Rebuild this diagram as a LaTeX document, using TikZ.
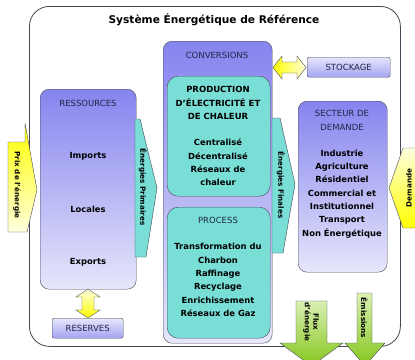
\documentclass[tikz,border=0pt]{standalone}
\usepackage{fontspec}
\setmainfont{DejaVu Sans}
\usetikzlibrary{positioning}

\definecolor{lilac}{RGB}{134,132,238}
\definecolor{lilacpale}{RGB}{230,230,251}
\definecolor{turq}{RGB}{120,222,214}
\definecolor{edge}{RGB}{70,70,84}
\definecolor{headtxt}{RGB}{36,36,70}
\definecolor{ylw}{RGB}{255,255,0}
\definecolor{ylwpale}{RGB}{255,255,222}
\definecolor{grn}{RGB}{132,198,28}
\definecolor{grnpale}{RGB}{218,240,180}

\tikzset{
  blockbox/.style={draw=edge, rounded corners=9pt, top color=lilac, bottom color=lilacpale,
    anchor=north west, inner sep=0pt},
  procbox/.style={draw=edge, rounded corners=11pt, fill=turq, anchor=north west, inner sep=0pt},
  tagbox/.style={draw=edge, rounded corners=2pt, top color=lilacpale, bottom color=lilac!75,
    anchor=north west, inner sep=0pt},
  head/.style={font=\fontsize{8.5}{13.5}\selectfont, text=headtxt, align=center},
  boldhead/.style={font=\bfseries\fontsize{8.5}{13.5}\selectfont, align=center},
  item/.style={font=\bfseries\fontsize{8.4}{13.3}\selectfont, align=center},
  arrowtxt/.style={font=\bfseries\fontsize{7.2}{8.5}\selectfont, align=center},
  flowshape/.style={draw=edge, fill=turq},
}

\begin{document}
\begin{tikzpicture}[x=1pt, y=-1pt]
  \useasboundingbox (0,0) rectangle (415,359);

  % the whole system
  \node[draw=edge, line width=0.8pt, rounded corners=20pt, fill=white, anchor=north west,
    minimum width=371pt, minimum height=340pt] (sys) at (29,6) {};
  \node[font=\bfseries\fontsize{10.6}{12}\selectfont] (title) at (214,20) {Système Énergétique de Référence};

  % main blocks
  \node[blockbox, minimum width=96pt, minimum height=200pt] (ress) at (40,89) {};
  \node[blockbox, minimum width=109pt, minimum height=302pt] (conv) at (163,41) {};
  \node[procbox, minimum width=103pt, minimum height=120pt] (prod) at (167,76) {};
  \node[procbox, minimum width=103pt, minimum height=131pt] (proc) at (167,207) {};
  \node[blockbox, minimum width=89pt, minimum height=171pt] (sect) at (298,101) {};
  \node[tagbox, minimum width=83pt, minimum height=20pt] (stock) at (307,57) {};
  \node[tagbox, minimum width=71pt, minimum height=20pt] (reserves) at (52,318) {};

  % texts
  \node[head] (ressT) at (88,103) {RESSOURCES};
  \node[item] (imports) at (88,156) {Imports};
  \node[item] (locales) at (88,209) {Locales};
  \node[item] (exports) at (88,262) {Exports};

  \node[head] (convT) at (217,55) {CONVERSIONS};
  \node[boldhead] (prodT) at (218,103) {PRODUCTION\\D'ÉLECTRICITÉ ET\\DE CHALEUR};
  \node[item] (prodL) at (218,162.5) {Centralisé\\Décentralisé\\Réseaux de\\chaleur};
  \node[head] (procT) at (218,220) {PROCESS};
  \node[item] (procL) at (218,280) {Transformation du\\Charbon\\Raffinage\\Recyclage\\Enrichissement\\Réseaux de Gaz};

  \node[head] (sectT) at (342,120.5) {SECTEUR DE\\DEMANDE};
  \node[item] (sectL) at (342,194) {Industrie\\Agriculture\\Résidentiel\\Commercial et\\Institutionnel\\Transport\\Non Énergétique};

  \node[head] (stockT) at (stock.center) {STOCKAGE};
  \node[head] (reservesT) at (reserves.center) {RESERVES};

  % energy flows between blocks
  \draw[flowshape] (135,119) -- (140,119) -- (157,188) -- (146,257) -- (135,257) -- cycle;
  \node[arrowtxt, rotate=-90] (prim) at (143,187) {Énergies Primaires};
  \draw[flowshape] (272,118) -- (280,118) -- (295,184) -- (283,253) -- (272,253) -- cycle;
  \node[arrowtxt, rotate=-90] (fin) at (281,185) {Énergies Finales};

  % storage and reserves links
  \path[draw=edge, left color=ylw, right color=ylwpale]
    (273,67.5) -- (282,56) -- (282,62) -- (297,62) -- (297,56) -- (306,67.5)
    -- (297,79) -- (297,73) -- (282,73) -- (282,79) -- cycle;
  \path[draw=edge, top color=ylwpale, bottom color=ylw]
    (88,289) -- (100,297) -- (94,297) -- (94,310) -- (100,310) -- (88,318)
    -- (76,310) -- (82,310) -- (82,297) -- (76,297) -- cycle;

  % outside inputs
  \path[draw=edge, top color=ylw, bottom color=ylwpale]
    (8,142) -- (25,142) -- (25,123) -- (37,190) -- (27,232) -- (8,232) -- cycle;
  \node[arrowtxt, rotate=-90] (prix) at (17,185) {Prix de l'énergie};
  \path[draw=edge, top color=ylwpale, bottom color=ylw]
    (416,148) -- (403,148) -- (389,188) -- (403,228) -- (416,228) -- cycle;
  \node[arrowtxt, rotate=90] (dem) at (409,188) {Demande};

  % outputs
  \path[draw=edge, top color=grnpale, bottom color=grn]
    (296,301) -- (327,301) -- (327,343) -- (343,343) -- (311.5,366) -- (280,343) -- (296,343) -- cycle;
  \node[arrowtxt, rotate=-90] (flux) at (311,322) {Flux\\d'énergie};
  \path[draw=edge, top color=grnpale, bottom color=grn]
    (357,293) -- (372,293) -- (372,343) -- (385,343) -- (365,366) -- (345,343) -- (357,343) -- cycle;
  \node[arrowtxt, rotate=-90] (emis) at (364.5,318) {Émissions};
\end{tikzpicture}
\end{document}
